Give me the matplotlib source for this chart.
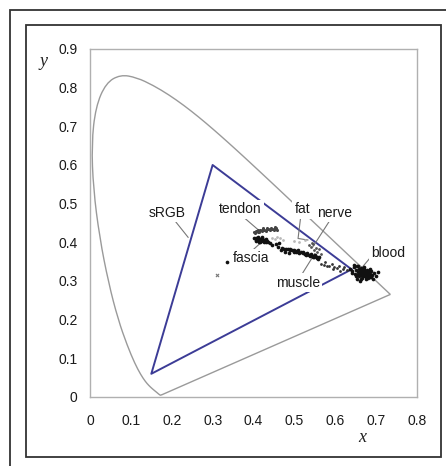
import numpy as np
import matplotlib
matplotlib.use('Agg')
import matplotlib.pyplot as plt
from matplotlib.patches import Rectangle, PathPatch
from matplotlib.path import Path

plt.rcParams['font.family'] = ['Liberation Sans', 'DejaVu Sans']

# CIE 1931 spectral locus (380-700 nm)
locus_x = [0.1741, 0.1740, 0.1738, 0.1736, 0.1733, 0.1730, 0.1726, 0.1721, 0.1714, 0.1703,
           0.1689, 0.1669, 0.1644, 0.1611, 0.1566, 0.1510, 0.1440, 0.1355, 0.1241, 0.1096,
           0.0913, 0.0687, 0.0454, 0.0235, 0.0082, 0.0039, 0.0139, 0.0389, 0.0743, 0.1142,
           0.1547, 0.1929, 0.2296, 0.2658, 0.3016, 0.3373, 0.3731, 0.4087, 0.4441, 0.4788,
           0.5125, 0.5448, 0.5752, 0.6029, 0.6270, 0.6482, 0.6658, 0.6801, 0.6915, 0.7006,
           0.7079, 0.7140, 0.7190, 0.7230, 0.7260, 0.7300, 0.7320, 0.7334, 0.7347]
locus_y = [0.0050, 0.0050, 0.0049, 0.0049, 0.0048, 0.0048, 0.0048, 0.0048, 0.0051, 0.0058,
           0.0069, 0.0086, 0.0109, 0.0138, 0.0177, 0.0227, 0.0297, 0.0399, 0.0578, 0.0868,
           0.1327, 0.2007, 0.2950, 0.4127, 0.5384, 0.6548, 0.7502, 0.8120, 0.8338, 0.8262,
           0.8059, 0.7816, 0.7543, 0.7243, 0.6923, 0.6589, 0.6245, 0.5896, 0.5547, 0.5202,
           0.4866, 0.4544, 0.4242, 0.3965, 0.3725, 0.3514, 0.3340, 0.3197, 0.3083, 0.2993,
           0.2920, 0.2859, 0.2809, 0.2770, 0.2740, 0.2700, 0.2680, 0.2666, 0.2653]

# sRGB primaries
srgb_x = [0.64, 0.30, 0.15]
srgb_y = [0.33, 0.60, 0.06]

# measured tissue chromaticities
tendon_x = [0.400, 0.405, 0.410, 0.415, 0.420, 0.425, 0.430, 0.435, 0.440, 0.445, 0.450, 0.455,
            0.410, 0.420, 0.430, 0.440, 0.450, 0.403, 0.413, 0.423, 0.433, 0.443, 0.453, 0.458]
tendon_y = [0.428, 0.430, 0.431, 0.432, 0.432, 0.433, 0.433, 0.434, 0.434, 0.435, 0.435, 0.436,
            0.427, 0.429, 0.430, 0.431, 0.432, 0.425, 0.426, 0.436, 0.438, 0.438, 0.439, 0.433]

fascia_x = [0.402, 0.405, 0.408, 0.410, 0.412, 0.415, 0.418, 0.420, 0.423, 0.425, 0.428, 0.430,
            0.433, 0.436, 0.440, 0.405, 0.410, 0.415, 0.420, 0.425, 0.430, 0.407, 0.413, 0.418, 0.334]
fascia_y = [0.412, 0.410, 0.408, 0.411, 0.405, 0.409, 0.406, 0.410, 0.404, 0.407, 0.405, 0.402,
            0.404, 0.401, 0.399, 0.403, 0.414, 0.402, 0.413, 0.401, 0.409, 0.406, 0.400, 0.404, 0.350]

fat_x = [0.445, 0.452, 0.458, 0.465, 0.472, 0.500, 0.512, 0.525]
fat_y = [0.412, 0.409, 0.414, 0.410, 0.407, 0.404, 0.402, 0.405]

muscle_x = [0.470, 0.475, 0.480, 0.485, 0.490, 0.495, 0.500, 0.505, 0.510, 0.515, 0.520, 0.525,
            0.530, 0.535, 0.540, 0.545, 0.550, 0.555, 0.560, 0.490, 0.500, 0.510, 0.520, 0.530,
            0.540, 0.550, 0.505, 0.525, 0.545, 0.555, 0.498, 0.512, 0.528, 0.538, 0.548, 0.558,
            0.445, 0.455, 0.460, 0.468, 0.478, 0.488, 0.462]
muscle_y = [0.386, 0.384, 0.383, 0.382, 0.381, 0.379, 0.378, 0.377, 0.375, 0.374, 0.373, 0.371,
            0.370, 0.368, 0.367, 0.365, 0.364, 0.362, 0.361, 0.383, 0.381, 0.379, 0.376, 0.373,
            0.371, 0.368, 0.375, 0.369, 0.363, 0.359, 0.375, 0.373, 0.368, 0.365, 0.361, 0.358,
            0.392, 0.395, 0.388, 0.380, 0.374, 0.372, 0.398]

nerve_x = [0.535, 0.540, 0.545, 0.548, 0.552, 0.556, 0.560, 0.565, 0.543]
nerve_y = [0.392, 0.388, 0.395, 0.380, 0.386, 0.376, 0.382, 0.370, 0.398]

other_x = [0.565, 0.572, 0.580, 0.585, 0.592, 0.598, 0.605, 0.610, 0.618, 0.622, 0.628, 0.575,
           0.595, 0.612]
other_y = [0.345, 0.342, 0.340, 0.338, 0.343, 0.336, 0.333, 0.339, 0.330, 0.335, 0.328, 0.349,
           0.330, 0.326]

blood_x = [0.635, 0.640, 0.645, 0.648, 0.650, 0.652, 0.655, 0.657, 0.658, 0.660, 0.662, 0.663,
           0.665, 0.666, 0.668, 0.670, 0.671, 0.672, 0.674, 0.675, 0.677, 0.678, 0.680, 0.682,
           0.684, 0.686, 0.688, 0.690, 0.655, 0.660, 0.665, 0.670, 0.675, 0.680, 0.650, 0.668,
           0.673, 0.662, 0.658, 0.685, 0.695, 0.700, 0.705, 0.645, 0.692,
           0.642, 0.653, 0.661, 0.667, 0.676, 0.683, 0.654, 0.664, 0.672, 0.679, 0.687]
blood_y = [0.330, 0.325, 0.335, 0.318, 0.328, 0.338, 0.322, 0.312, 0.331, 0.325, 0.316, 0.334,
           0.320, 0.308, 0.327, 0.318, 0.332, 0.312, 0.324, 0.305, 0.320, 0.329, 0.314, 0.322,
           0.310, 0.318, 0.326, 0.315, 0.340, 0.300, 0.330, 0.336, 0.315, 0.308, 0.312, 0.323,
           0.327, 0.306, 0.319, 0.330, 0.320, 0.312, 0.324, 0.342, 0.305,
           0.320, 0.316, 0.321, 0.314, 0.310, 0.326, 0.305, 0.329, 0.320, 0.318, 0.311]

# label text position, leader line points
labels = {
    'sRGB':   ((0.188, 0.476), [(0.203, 0.462), (0.240, 0.413)]),
    'tendon': ((0.368, 0.485), [(0.379, 0.462), (0.412, 0.432)]),
    'fat':    ((0.519, 0.485), [(0.515, 0.462), (0.509, 0.410), (0.533, 0.406)]),
    'nerve':  ((0.599, 0.476), [(0.587, 0.457), (0.545, 0.388)]),
    'fascia': ((0.393, 0.360), [(0.391, 0.373), (0.420, 0.401)]),
    'muscle': ((0.509, 0.296), [(0.517, 0.315), (0.550, 0.371)]),
    'blood':  ((0.729, 0.373), [(0.691, 0.367), (0.660, 0.328)]),
}

W, H = 446, 466
fig = plt.figure(figsize=(W / 100, H / 100), dpi=100)
fig.patch.set_facecolor('white')

# outer and inner frames
fig.add_artist(Rectangle((9.5 / W, -0.05), 1.1, 1 - 9.5 / H + 0.05, transform=fig.transFigure,
                         fill=False, ec='#333333', lw=1.3))
fig.add_artist(Rectangle((26 / W, 1 - 457 / H), (441 - 26) / W, (457 - 25) / H,
                         transform=fig.transFigure, fill=False, ec='#333333', lw=1.3))

ax = fig.add_axes([90 / W, 1 - 397 / H, (417 - 90) / W, (397 - 49) / H])
ax.set_xlim(0, 0.8)
ax.set_ylim(0, 0.9)
for sp in ax.spines.values():
    sp.set_color('#b0b0b0')
    sp.set_linewidth(1.0)
ax.tick_params(length=0, labelsize=10, labelcolor='#1a1a1a')
ax.tick_params(axis='x', pad=12)
ax.tick_params(axis='y', pad=9)
ax.set_xticks(np.arange(0, 0.81, 0.1))
ax.set_yticks(np.arange(0, 0.91, 0.1))
ax.set_xticklabels(['0'] + ['%.1f' % v for v in np.arange(0.1, 0.81, 0.1)])
ax.set_yticklabels(['0'] + ['%.1f' % v for v in np.arange(0.1, 0.91, 0.1)])

# spectral locus, drawn smooth through the tabulated points (quadratic bezier via midpoints)
pts = list(zip(locus_x, locus_y))
verts = [pts[0]]
codes = [Path.MOVETO]
for i in range(1, len(pts) - 1):
    mid = ((pts[i][0] + pts[i + 1][0]) / 2, (pts[i][1] + pts[i + 1][1]) / 2)
    verts += [pts[i], mid]
    codes += [Path.CURVE3, Path.CURVE3]
verts += [pts[-1], pts[0]]
codes += [Path.LINETO, Path.LINETO]
ax.add_patch(PathPatch(Path(verts, codes), fill=False, ec='#9a9a9a', lw=1.0, zorder=1))

ax.plot(srgb_x + [srgb_x[0]], srgb_y + [srgb_y[0]], color='#3c3c96', lw=1.4, zorder=2)

ax.scatter(tendon_x, tendon_y, s=5, color='#444444', lw=0, zorder=4)
ax.scatter(fascia_x, fascia_y, s=7, color='#111111', lw=0, zorder=4)
ax.scatter(fat_x, fat_y, s=4, color='#b8b8b8', lw=0, zorder=4)
ax.scatter(muscle_x, muscle_y, s=7, color='#111111', lw=0, zorder=4)
ax.scatter(nerve_x, nerve_y, s=4, color='#555555', lw=0, zorder=4)
ax.scatter(other_x, other_y, s=4, color='#333333', lw=0, zorder=4)
ax.scatter(blood_x, blood_y, s=7, color='#111111', lw=0, zorder=4)
ax.scatter([0.311], [0.315], s=5, marker='x', color='#777777', lw=0.8, zorder=4)

for name, (pos, leader) in labels.items():
    lx = [p[0] for p in leader]
    ly = [p[1] for p in leader]
    ax.plot(lx, ly, color='#777777', lw=0.8, zorder=3)
    ax.text(pos[0], pos[1], name, ha='center', va='center', fontsize=10, color='#1a1a1a',
            zorder=5, bbox=dict(facecolor='white', edgecolor='none', pad=1.5))

fig.text(44 / W, 1 - 62 / H, 'y', family='Liberation Serif', style='italic', fontsize=13,
         ha='center', va='center', color='#222222')
fig.text(362 / W, 1 - 437 / H, 'x', family='Liberation Serif', style='italic', fontsize=13,
         ha='center', va='center', color='#222222')

fig.savefig('out.png', dpi=100, facecolor='white')
